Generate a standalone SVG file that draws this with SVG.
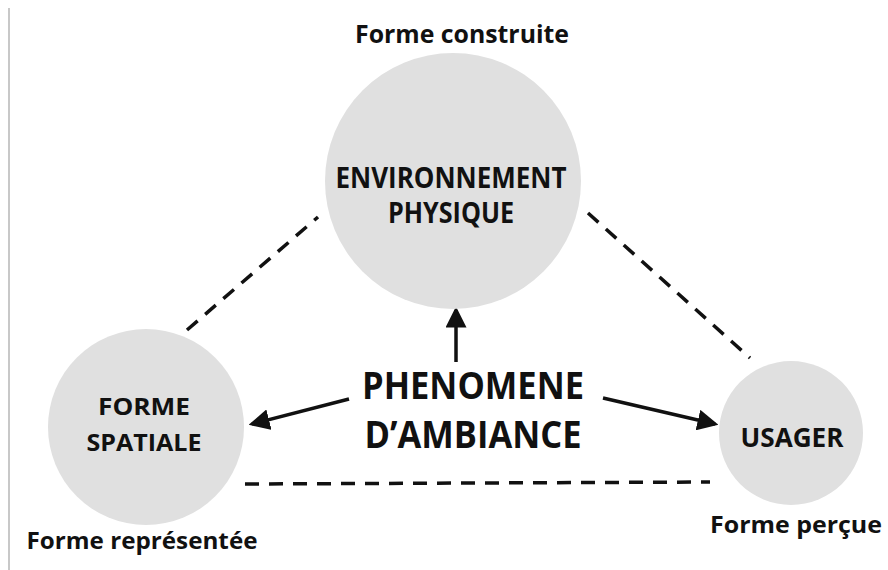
<svg xmlns="http://www.w3.org/2000/svg" width="888" height="570" viewBox="0 0 888 570">
<defs>
<marker id="ah" markerWidth="6" markerHeight="6" refX="5" refY="3" orient="auto" markerUnits="strokeWidth">
<path d="M0,0 L6,3 L0,6 Z" fill="#111"/>
</marker>
<style>
.c{fill:#e0e0e0;}
.t{font-family:"Open Sans","Liberation Sans",sans-serif;font-weight:bold;fill:#111;text-anchor:middle;}
.d{stroke:#111;stroke-width:3.5;fill:none;stroke-dasharray:14 10;}
.a{stroke:#111;stroke-width:3.5;fill:none;marker-end:url(#ah);}
</style>
</defs>
<rect width="888" height="570" fill="#fff"/>
<line x1="9" y1="8" x2="9" y2="570" stroke="#c8c8c8" stroke-width="2"/>
<g id="connectors">
<line class="d" x1="187" y1="330" x2="318" y2="217"/>
<line class="d" x1="588" y1="213" x2="750" y2="358"/>
<line class="d" x1="245" y1="484" x2="710" y2="482"/>
<line class="a" x1="456" y1="362" x2="456" y2="310"/>
<line class="a" x1="349" y1="399" x2="252" y2="424"/>
<line class="a" x1="603" y1="398" x2="715" y2="424"/>
</g>
<g id="env">
<circle class="c" cx="453" cy="181" r="128"/>
<text class="t" x="451" y="188" font-size="28" textLength="231" lengthAdjust="spacingAndGlyphs">ENVIRONNEMENT</text>
<text class="t" x="451" y="223" font-size="28" textLength="126" lengthAdjust="spacingAndGlyphs">PHYSIQUE</text>
<text class="t" x="462" y="43" font-size="25" textLength="214" lengthAdjust="spacingAndGlyphs">Forme construite</text>
</g>
<g id="forme">
<circle class="c" cx="146" cy="427" r="98"/>
<text class="t" x="144" y="415" font-size="23" textLength="92" lengthAdjust="spacingAndGlyphs">FORME</text>
<text class="t" x="144" y="451" font-size="23" textLength="115" lengthAdjust="spacingAndGlyphs">SPATIALE</text>
<text class="t" x="142" y="549" font-size="24" textLength="231" lengthAdjust="spacingAndGlyphs">Forme représentée</text>
</g>
<g id="usager">
<circle class="c" cx="791" cy="433" r="72"/>
<text class="t" x="792" y="447" font-size="26" textLength="103" lengthAdjust="spacingAndGlyphs">USAGER</text>
<text class="t" x="796" y="533" font-size="24" textLength="172" lengthAdjust="spacingAndGlyphs">Forme perçue</text>
</g>
<g id="phenomene">
<text class="t" x="473" y="399" font-size="37" textLength="222" lengthAdjust="spacingAndGlyphs">PHENOMENE</text>
<text class="t" x="473" y="448" font-size="37" textLength="217" lengthAdjust="spacingAndGlyphs">D’AMBIANCE</text>
</g>
</svg>
